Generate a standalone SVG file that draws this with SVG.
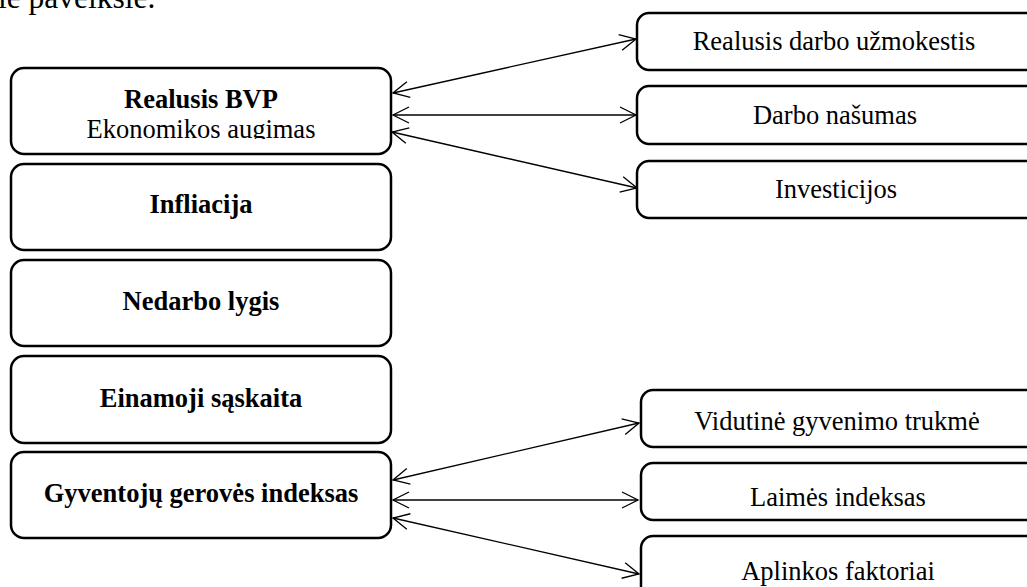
<svg xmlns="http://www.w3.org/2000/svg" width="1027" height="587" viewBox="0 0 1027 587">
<defs>
<style>
.box{fill:#fff;stroke:#000;stroke-width:2.5}
.t{font-family:"Liberation Serif","Times New Roman",serif;font-size:26.5px;fill:#000;text-anchor:middle}
.b{font-weight:bold}
.c{stroke:#000;stroke-width:1.3;fill:none;marker-start:url(#ah);marker-end:url(#ah)}
</style>
<marker id="ah" viewBox="-17 -9 19 18" refX="0" refY="0" markerWidth="19" markerHeight="18" markerUnits="userSpaceOnUse" orient="auto-start-reverse">
<path d="M-16,-8 L0,0 L-16,8" fill="none" stroke="#000" stroke-width="1.3"/>
</marker>
<clipPath id="clip1"><rect x="11" y="68" width="381" height="71"/></clipPath>
</defs>
<rect width="1027" height="587" fill="#fff"/>
<text x="-2" y="8" font-family="Liberation Serif, serif" font-size="31.5">ie paveiksle.</text>
<g id="n-bvp">
<rect class="box" x="11" y="68" width="380" height="86" rx="13"/>
<text class="t b" x="201" y="108">Realusis BVP</text>
<text class="t" x="201" y="138" clip-path="url(#clip1)">Ekonomikos augimas</text>
</g>
<g id="n-infliacija">
<rect class="box" x="11" y="164" width="380" height="86" rx="13"/>
<text class="t b" x="201" y="213">Infliacija</text>
</g>
<g id="n-nedarbo">
<rect class="box" x="11" y="260" width="380" height="86" rx="13"/>
<text class="t b" x="201" y="310">Nedarbo lygis</text>
</g>
<g id="n-einamoji">
<rect class="box" x="11" y="356" width="380" height="87" rx="13"/>
<text class="t b" x="201" y="407">Einamoji sąskaita</text>
</g>
<g id="n-gerove">
<rect class="box" x="11" y="452" width="380" height="86" rx="13"/>
<text class="t b" x="201" y="502">Gyventojų gerovės indeksas</text>
</g>
<g id="n-uzmokestis">
<rect class="box" x="637" y="13" width="410" height="57" rx="12"/>
<text class="t" x="834" y="50">Realusis darbo užmokestis</text>
</g>
<g id="n-nasumas">
<rect class="box" x="637" y="86" width="410" height="58" rx="12"/>
<text class="t" x="835" y="124">Darbo našumas</text>
</g>
<g id="n-investicijos">
<rect class="box" x="637" y="161" width="410" height="57" rx="12"/>
<text class="t" x="836" y="198">Investicijos</text>
</g>
<g id="n-trukme">
<rect class="box" x="641" y="390" width="410" height="57" rx="12"/>
<text class="t" x="837" y="430">Vidutinė gyvenimo trukmė</text>
</g>
<g id="n-laime">
<rect class="box" x="641" y="463" width="410" height="57" rx="12"/>
<text class="t" x="838" y="506">Laimės indeksas</text>
</g>
<g id="n-aplinka">
<rect class="box" x="641" y="536" width="410" height="70" rx="12"/>
<text class="t" x="838" y="580">Aplinkos faktoriai</text>
</g>
<g id="connectors">
<line class="c" x1="393" y1="93" x2="636" y2="39"/>
<line class="c" x1="393" y1="115" x2="636" y2="115"/>
<line class="c" x1="392" y1="132" x2="637" y2="188"/>
<line class="c" x1="393" y1="480" x2="639" y2="423"/>
<line class="c" x1="393" y1="500" x2="638" y2="500"/>
<line class="c" x1="393" y1="518" x2="639" y2="574"/>
</g>
</svg>
